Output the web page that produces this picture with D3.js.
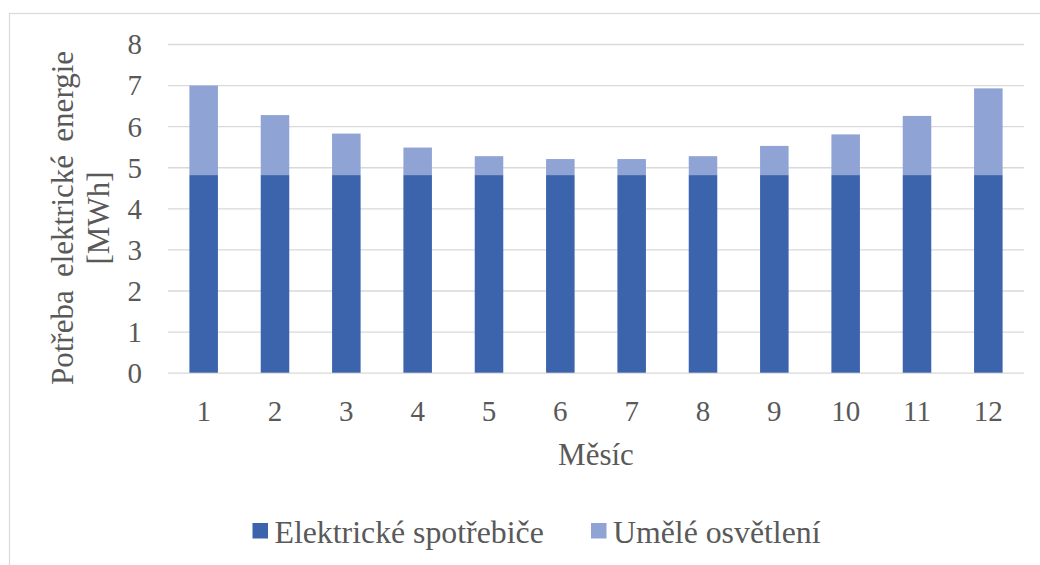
<!DOCTYPE html>
<html>
<head>
<meta charset="utf-8">
<script src="https://cdn.jsdelivr.net/npm/d3@7"></script>
</head>
<body style="margin:0;background:#fff">
<svg id="chart" width="1040" height="565" style="display:block"></svg>
<script>
// Monthly electricity demand [MWh]
const months = ["1", "2", "3", "4", "5", "6", "7", "8", "9", "10", "11", "12"];
const appliances = [4.81, 4.81, 4.81, 4.81, 4.81, 4.81, 4.81, 4.81, 4.81, 4.81, 4.81, 4.81];
const lighting = [2.18, 1.46, 1.01, 0.67, 0.46, 0.39, 0.39, 0.46, 0.71, 0.99, 1.44, 2.11];
const yTicks = [0, 1, 2, 3, 4, 5, 6, 7, 8];
const seriesNames = ["Elektrické spotřebiče", "Umělé osvětlení"];
const seriesColors = ["#3c64ac", "#8fa4d4"];

const FONT = "'Liberation Serif'";
const TEXT_COLOR = "#595959";

const svg = d3.select("#chart");

// chart frame
svg.append("rect")
  .attr("x", 9.5).attr("y", 13.5)
  .attr("width", 1100).attr("height", 700)
  .attr("fill", "none").attr("stroke", "#d9d9d9").attr("stroke-width", 1.2);

const plot = { left: 168, right: 1024, top: 44, bottom: 372.7 };

const x = d3.scaleBand()
  .domain(months)
  .range([plot.left, plot.right])
  .paddingInner(0.6)
  .paddingOuter(0.3);

const y = d3.scaleLinear()
  .domain([0, 8])
  .range([plot.bottom, plot.top]);

// horizontal gridlines and value labels
const yAxis = d3.axisLeft(y).tickValues(yTicks).tickSize(-(plot.right - plot.left)).tickFormat(d3.format("d"));
const gy = svg.append("g").attr("transform", `translate(${plot.left},0)`).call(yAxis);
gy.select(".domain").remove();
gy.attr("font-family", null).attr("font-size", null);
gy.selectAll(".tick line").attr("stroke", "#d9d9d9").attr("stroke-width", 1.3);
gy.selectAll(".tick text")
  .attr("x", -26).attr("dy", "0.34em")
  .style("font-family", FONT)
  .style("font-size", "29px")
  .style("fill", TEXT_COLOR);

// stacked bars
const rows = months.map((m, i) => ({ month: m, a: appliances[i], l: lighting[i] }));
const layers = d3.stack().keys(["a", "l"])(rows);

svg.append("g").selectAll("g")
  .data(layers)
  .join("g")
  .attr("fill", (d, i) => seriesColors[i])
  .selectAll("rect")
  .data(d => d)
  .join("rect")
  .attr("x", d => x(d.data.month))
  .attr("width", x.bandwidth())
  .attr("y", d => y(d[1]))
  .attr("height", d => y(d[0]) - y(d[1]));

// month labels
const xAxis = d3.axisBottom(x).tickSize(0).tickPadding(0);
const gx = svg.append("g").attr("transform", `translate(0,${plot.bottom})`).call(xAxis);
gx.select(".domain").remove();
gx.attr("font-family", null).attr("font-size", null);
gx.selectAll(".tick text")
  .attr("y", 48).attr("dy", 0)
  .style("font-family", FONT)
  .style("font-size", "29px")
  .style("fill", TEXT_COLOR);

// x axis title
svg.append("text")
  .attr("x", (plot.left + plot.right) / 2)
  .attr("y", 464.5)
  .attr("text-anchor", "middle")
  .style("font-family", FONT)
  .style("font-size", "31px")
  .style("fill", TEXT_COLOR)
  .text("Měsíc");

// y axis title (two lines)
const yTitle = svg.append("text")
  .attr("transform", "translate(73,218) rotate(-90)")
  .attr("text-anchor", "middle")
  .style("font-family", FONT)
  .style("font-size", "31px")
  .style("fill", TEXT_COLOR);
yTitle.append("tspan").attr("x", 0).attr("y", 0)
  .style("word-spacing", "5.5px")
  .text("Potřeba elektrické energie");
yTitle.append("tspan").attr("x", 0).attr("y", 36).text("[MWh]");

// legend
const legendItems = [
  { name: seriesNames[0], color: seriesColors[0], x: 252.5 },
  { name: seriesNames[1], color: seriesColors[1], x: 591 }
];
const lg = svg.append("g");
lg.selectAll("rect")
  .data(legendItems)
  .join("rect")
  .attr("x", d => d.x).attr("y", 523)
  .attr("width", 15.5).attr("height", 15.5)
  .attr("fill", d => d.color);
lg.selectAll("text")
  .data(legendItems)
  .join("text")
  .attr("x", d => d.x + 22)
  .attr("y", 542.7)
  .style("font-family", FONT)
  .style("font-size", "31.8px")
  .style("fill", TEXT_COLOR)
  .text(d => d.name);
</script>
</body>
</html>
